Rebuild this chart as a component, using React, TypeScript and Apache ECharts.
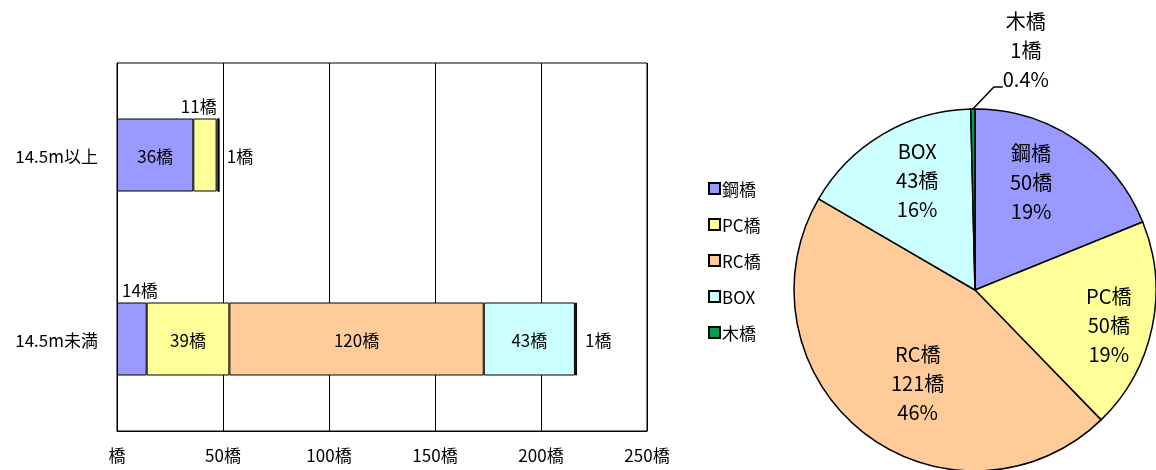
import React, { useEffect, useRef } from "react";
import * as echarts from "echarts";

const categories = ["14.5m以上", "14.5m未満"];
const seriesNames = ["鋼橋", "PC橋", "RC橋", "BOX", "木橋"];
const steel = [36, 14];
const pc = [11, 39];
const rc = [1, 120];
const box = [0, 43];
const wood = [0, 1];
const pieValues = [50, 50, 121, 43, 1];
const colors = ["#9999FF", "#FFFF99", "#FFCC99", "#CCFFFF", "#00A050"];
const xTicks = [0, 50, 100, 150, 200, 250];

const FONT = "'Noto Sans CJK JP', 'Noto Sans', sans-serif";

// label placement per stacked segment: 'inside' | 'aboveLeft' | 'aboveRight' | 'right'
const labelPlacement: Record<string, string[]> = {
  "鋼橋": ["inside", "aboveLeft"],
  "PC橋": ["aboveRight", "inside"],
  "RC橋": ["right", "inside"],
  "BOX": ["inside", "inside"],
  "木橋": ["right", "right"],
};

// small nudges of the in-slice pie labels (Excel "best fit" placement)
const pieLabelNudge = [
  [-14, -4],
  [11, 9],
  [20, -6],
  [6, -2],
  [0, 0],
];

function labelFor(kind: string, value: number) {
  if (!value) return { show: false };
  const base = { show: true, formatter: "{c}橋", color: "#000", fontSize: 17, fontFamily: FONT };
  if (kind === "inside") return { ...base, position: "inside" };
  if (kind === "right") return { ...base, position: "right", distance: 8 };
  if (kind === "aboveLeft")
    return { ...base, position: [5, -5], align: "left", verticalAlign: "bottom" };
  return { ...base, position: ["100%", -5], align: "right", verticalAlign: "bottom" };
}

export default function App() {
  const ref = useRef<HTMLDivElement>(null);
  useEffect(() => {
    if (!ref.current) return;
    const chart = echarts.init(ref.current, null, { renderer: "svg" });
    const barData = [steel, pc, rc, box, wood];
    const barSeries = seriesNames.map((name, i) => ({
      name,
      type: "bar",
      stack: "total",
      barWidth: 73,
      itemStyle: { color: colors[i], borderColor: "#000", borderWidth: 1 },
      data: barData[i].map((v, j) => ({
        value: v,
        label: labelFor(labelPlacement[name][j], v),
      })),
    }));
    const pieData = seriesNames.map((name, i) => ({
      name,
      value: pieValues[i],
      itemStyle: { color: colors[i] },
    }));
    chart.setOption({
      animation: false,
      textStyle: { fontFamily: FONT, color: "#000" },
      legend: {
        orient: "vertical",
        left: 703,
        top: 175,
        itemWidth: 11,
        itemHeight: 11,
        itemGap: 19,
        icon: "rect",
        data: seriesNames,
        textStyle: { fontSize: 17, color: "#000", fontFamily: FONT, padding: [0, 0, 0, -3] },
        selectedMode: false,
      },
      grid: {
        left: 117,
        top: 63,
        width: 530,
        height: 368,
        show: true,
        borderColor: "#000",
        borderWidth: 1,
        backgroundColor: "transparent",
      },
      xAxis: {
        type: "value",
        min: xTicks[0],
        max: xTicks[xTicks.length - 1],
        interval: 50,
        axisLine: { show: true, lineStyle: { color: "#000" } },
        axisTick: { show: false },
        splitLine: { show: true, lineStyle: { color: "#000", width: 1 } },
        axisLabel: {
          color: "#000",
          fontSize: 17,
          margin: 15,
          fontFamily: FONT,
          formatter: (v: number) => (v === 0 ? "橋" : v + "橋"),
        },
      },
      yAxis: {
        type: "category",
        data: categories,
        inverse: true,
        axisLine: { show: true, lineStyle: { color: "#000" } },
        axisTick: { show: false },
        splitLine: { show: false },
        axisLabel: { color: "#000", fontSize: 17, margin: 19, fontFamily: FONT },
      },
      series: [
        ...barSeries,
        {
          type: "pie",
          name: "pie",
          center: [975, 290],
          radius: 181,
          startAngle: 90,
          clockwise: true,
          percentPrecision: 1,
          silent: true,
          itemStyle: { borderColor: "#000", borderWidth: 1.5 },
          label: { show: false },
          labelLine: { show: false },
          labelLayout: (p: any) => {
            if (p.dataIndex !== 4 || !p.labelLinePoints) return {};
            const [x0, y0] = p.labelLinePoints[0];
            return {
              x: x0 + 53,
              y: y0 - 60,
              align: "center",
              verticalAlign: "middle",
              labelLinePoints: [
                [x0, y0],
                [x0 + 21, y0 - 22],
                [x0 + 30, y0 - 22],
              ],
            };
          },
          data: pieData.map((d, i) =>
            i === 4
              ? {
                  ...d,
                  label: {
                    show: true,
                    position: "outside",
                    formatter: "{b}\n{c}橋\n{d}%",
                    fontSize: 20,
                    lineHeight: 29,
                    color: "#000",
                    align: "center",
                    fontFamily: FONT,
                  },
                  labelLine: {
                    show: true,
                    length: 20,
                    length2: 10,
                    lineStyle: { color: "#000", width: 1.5 },
                  },
                }
              : d
          ),
        },
        {
          type: "pie",
          name: "pieLabels",
          center: [975, 290],
          radius: [95, 150],
          startAngle: 90,
          clockwise: true,
          percentPrecision: 0,
          silent: true,
          z: 5,
          itemStyle: { color: "rgba(0,0,0,0)", borderWidth: 0 },
          label: {
            show: true,
            position: "inside",
            formatter: "{b}\n{c}橋\n{d}%",
            fontSize: 20,
            lineHeight: 29,
            color: "#000",
            fontFamily: FONT,
          },
          labelLine: { show: false },
          labelLayout: (p: any) => {
            const n = pieLabelNudge[p.dataIndex] || [0, 0];
            return { dx: n[0], dy: n[1] };
          },
          data: pieData.map((d, i) => ({
            name: d.name,
            value: d.value,
            itemStyle: { color: "rgba(0,0,0,0)" },
            label: i === 4 ? { show: false } : undefined,
          })),
        },
      ],
    });
    return () => chart.dispose();
  }, []);
  return (
    <div
      ref={ref}
      style={{ position: "fixed", left: 0, top: 0, width: 1156, height: 470 }}
    />
  );
}
